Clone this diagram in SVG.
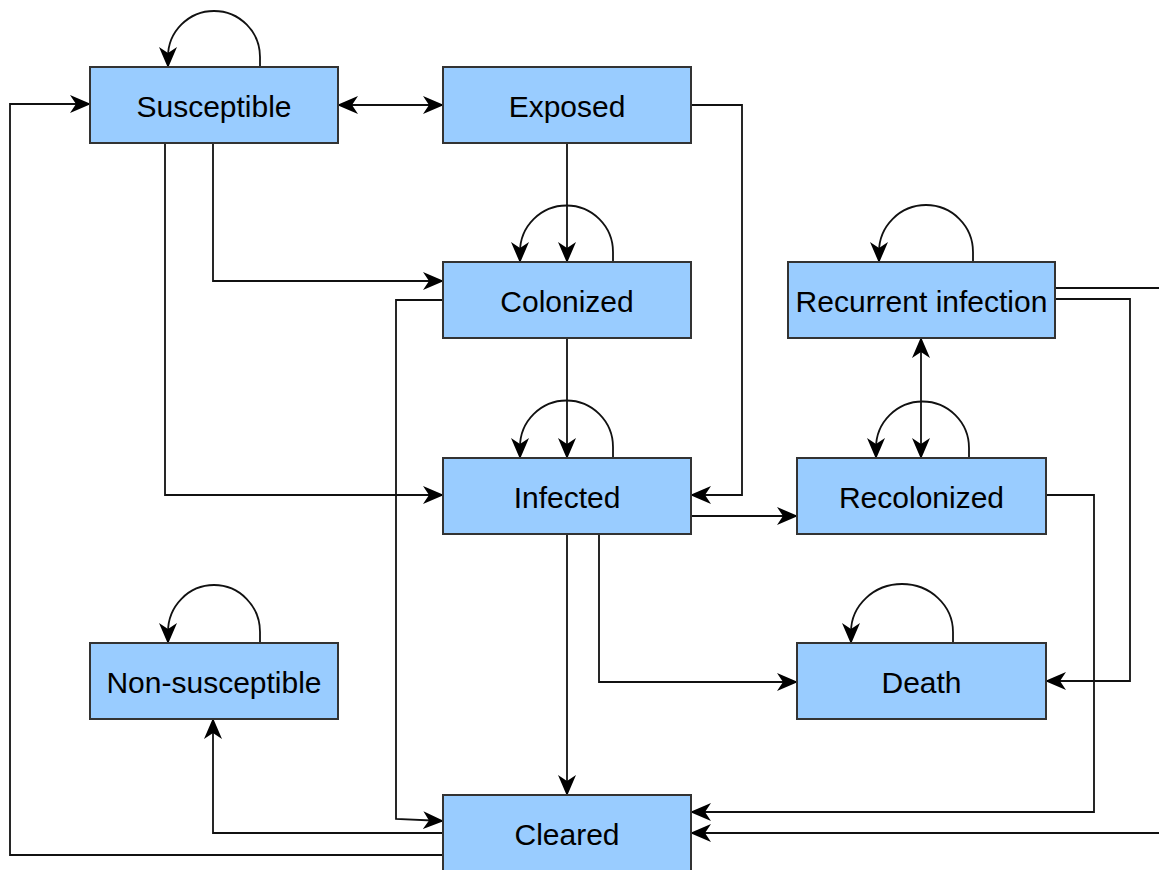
<svg xmlns="http://www.w3.org/2000/svg" width="1159" height="870" viewBox="0 0 1159 870">
<style>
.box{fill:#99ccff;stroke:#333;stroke-width:2}
.lbl{font-family:"Liberation Sans",Arial,sans-serif;font-size:30px;fill:#000;text-anchor:middle}
.c{fill:none;stroke:#111;stroke-width:1.8}
.a{marker-end:url(#ah)}
.d{marker-start:url(#ah);marker-end:url(#ah)}
</style>
<defs>
<marker id="ah" markerUnits="userSpaceOnUse" viewBox="0 0 21 18" refX="20" refY="9" markerWidth="21" markerHeight="18" orient="auto-start-reverse">
<path d="M0,0 L21,9 L0,18 L6,9 z" fill="#000"/>
</marker>
</defs>
<rect width="1159" height="870" fill="#fff"/>
<g id="connectors">
<path class="c a" d="M260,67 L260,57 A46,46 0 0 0 168,57 L168,67"/>
<path class="c a" d="M613,262 L613,252 A46.5,46.5 0 0 0 520,252 L520,262"/>
<path class="c a" d="M973,262 L973,252 A47,47 0 0 0 879,252 L879,262"/>
<path class="c a" d="M613,458 L613,447 A46.5,46.5 0 0 0 520,447 L520,458"/>
<path class="c a" d="M969,458 L969,448 A46.5,46.5 0 0 0 876,448 L876,458"/>
<path class="c a" d="M953,643 L953,632 A51,48 0 0 0 851,632 L851,643"/>
<path class="c a" d="M260,643 L260,632 A46,47 0 0 0 168,632 L168,643"/>
<path class="c d" d="M338,105 L443,105"/>
<path class="c a" d="M443,855 L10,855 L10,104 L90,104"/>
<path class="c a" d="M213,143 L213,281 L443,281"/>
<path class="c a" d="M165,143 L165,495 L443,495"/>
<path class="c a" d="M567,143 L567,262"/>
<path class="c a" d="M691,105 L742,105 L742,495 L691,495"/>
<path class="c a" d="M567,338 L567,458"/>
<path class="c a" d="M443,300 L396,300 L396,819 L443,821"/>
<path class="c a" d="M691,516 L797,516"/>
<path class="c a" d="M567,534 L567,795"/>
<path class="c a" d="M599,534 L599,682 L797,682"/>
<path class="c a" d="M443,833 L213,833 L213,719"/>
<path class="c d" d="M921,338 L921,458"/>
<path class="c a" d="M1046,495 L1094,495 L1094,812 L691,812"/>
<path class="c a" d="M1055,299 L1130,299 L1130,681 L1046,681"/>
<path class="c a" d="M1055,288 L1175,288 L1175,833 L691,833"/>
</g>
<g id="susceptible"><rect class="box" x="90" y="67" width="248" height="76"/><text class="lbl" x="214" y="116.5">Susceptible</text></g>
<g id="exposed"><rect class="box" x="443" y="67" width="248" height="76"/><text class="lbl" x="567" y="116.5">Exposed</text></g>
<g id="colonized"><rect class="box" x="443" y="262" width="248" height="76"/><text class="lbl" x="567" y="311.5">Colonized</text></g>
<g id="recurrent"><rect class="box" x="788" y="262" width="267" height="76"/><text class="lbl" x="921.5" y="311.5">Recurrent infection</text></g>
<g id="infected"><rect class="box" x="443" y="458" width="248" height="76"/><text class="lbl" x="567" y="507.5">Infected</text></g>
<g id="recolonized"><rect class="box" x="797" y="458" width="249" height="76"/><text class="lbl" x="921.5" y="507.5">Recolonized</text></g>
<g id="nonsusceptible"><rect class="box" x="90" y="643" width="248" height="76"/><text class="lbl" x="214" y="692.5">Non-susceptible</text></g>
<g id="death"><rect class="box" x="797" y="643" width="249" height="76"/><text class="lbl" x="921.5" y="692.5">Death</text></g>
<g id="cleared"><rect class="box" x="443" y="795" width="248" height="80"/><text class="lbl" x="567" y="844.5">Cleared</text></g>
</svg>
